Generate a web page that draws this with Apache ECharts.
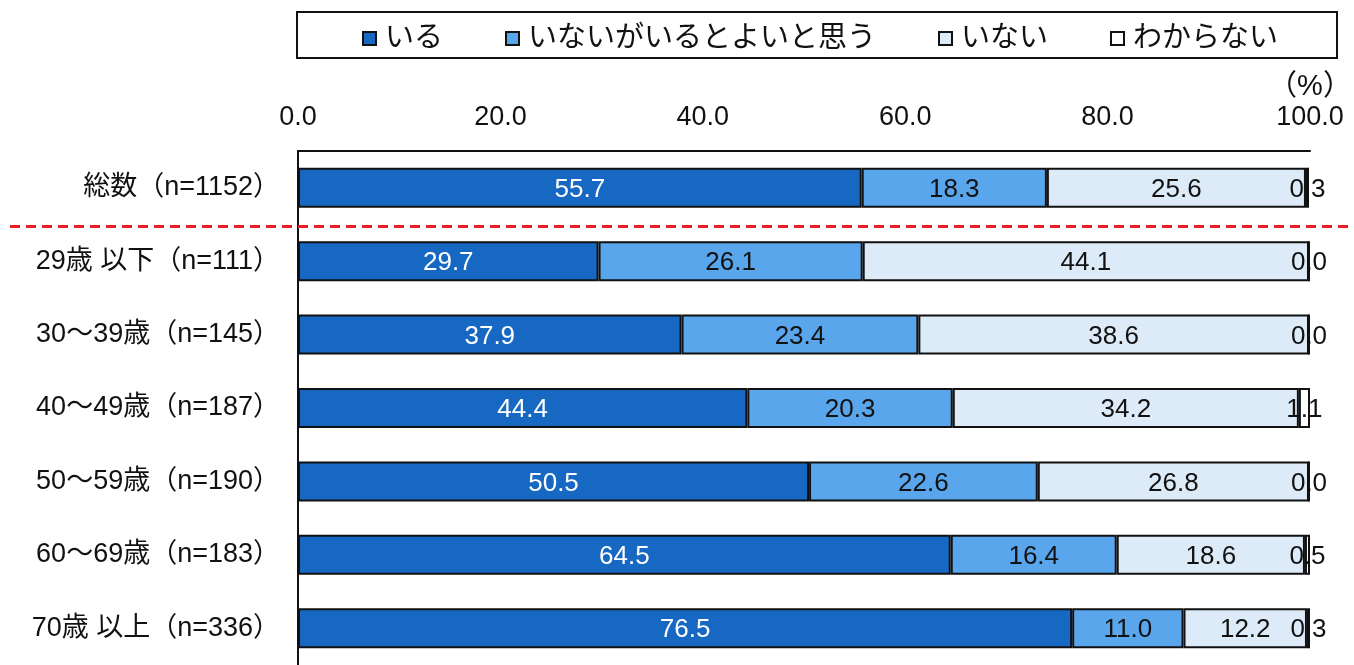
<!DOCTYPE html>
<html>
<head>
<meta charset="utf-8">
<script src="https://cdn.jsdelivr.net/npm/echarts@6/dist/echarts.min.js"></script>
<style>
  html, body { margin: 0; padding: 0; background: #fff; }
  #chart { width: 1354px; height: 665px; }
</style>
</head>
<body>
<div id="chart"></div>
<script>
// Age groups (first row is the overall total)
const categories = [
  '総数（n=1152）',
  '29歳 以下（n=111）',
  '30～39歳（n=145）',
  '40～49歳（n=187）',
  '50～59歳（n=190）',
  '60～69歳（n=183）',
  '70歳 以上（n=336）'
];
const seriesNames = ['いる', 'いないがいるとよいと思う', 'いない', 'わからない'];
const iru        = [55.7, 29.7, 37.9, 44.4, 50.5, 64.5, 76.5];
const iruToYoi   = [18.3, 26.1, 23.4, 20.3, 22.6, 16.4, 11.0];
const inai       = [25.6, 44.1, 38.6, 34.2, 26.8, 18.6, 12.2];
const wakaranai  = [0.3, 0.0, 0.0, 1.1, 0.0, 0.5, 0.3];
const xMin = 0, xMax = 100, xStep = 20;

const colors = ['#1668c2', '#5aa6ec', '#ddebf9', '#ffffff'];
const labelColors = ['#ffffff', '#111111', '#111111', '#111111'];
const FONT = "'Liberation Sans', 'Noto Sans CJK JP', sans-serif";

const values = [iru, iruToYoi, inai, wakaranai];

const chart = echarts.init(document.getElementById('chart'), null, { renderer: 'canvas' });

const option = {
  animation: false,
  backgroundColor: '#ffffff',
  legend: {
    data: seriesNames,
    left: 362,
    top: 24,
    padding: 0,
    itemWidth: 13,
    itemHeight: 13,
    itemGap: 62,
    icon: 'rect',
    textStyle: { fontSize: 29, color: '#111', fontFamily: FONT, padding: [0, 0, 0, 4] }
  },
  grid: { left: 298, top: 151, width: 1012, height: 521.5, containLabel: false },
  xAxis: {
    type: 'value',
    position: 'top',
    min: xMin,
    max: xMax,
    interval: xStep,
    splitLine: { show: false },
    axisTick: { show: false },
    axisLine: { show: true, lineStyle: { color: '#111', width: 2 } },
    axisLabel: {
      margin: 20,
      fontSize: 27,
      color: '#111',
      fontFamily: FONT,
      formatter: v => v.toFixed(1)
    }
  },
  yAxis: {
    type: 'category',
    data: categories,
    inverse: true,
    axisTick: { show: false },
    axisLine: { show: true, lineStyle: { color: '#111', width: 2 } },
    axisLabel: { margin: 18, fontSize: 27, color: '#111', fontFamily: FONT }
  },
  series: seriesNames.map((name, i) => ({
    name: name,
    type: 'bar',
    stack: 'total',
    barWidth: 40,
    data: values[i],
    itemStyle: { color: colors[i], borderColor: '#111', borderWidth: 2 },
    label: {
      show: true,
      position: 'inside',
      offset: [0, 2],
      fontSize: 26,
      fontFamily: FONT,
      color: labelColors[i],
      formatter: p => p.value.toFixed(1)
    }
  }))
};

chart.setOption(option);

// Separator between the total row and the age-group rows, plus the unit mark
const y0 = chart.convertToPixel({ yAxisIndex: 0 }, categories[0]);
const y1 = chart.convertToPixel({ yAxisIndex: 0 }, categories[1]);
const sepY = (y0 + y1) / 2 + 2;
const xEnd = chart.convertToPixel({ xAxisIndex: 0 }, xMax);

chart.setOption({
  graphic: [
    {
      type: 'rect',
      shape: { x: 297, y: 12, width: 1040, height: 46 },
      style: { fill: 'none', stroke: '#111', lineWidth: 2 },
      silent: true
    },
    {
      type: 'line',
      shape: { x1: 10, y1: sepY, x2: 1354, y2: sepY },
      style: { stroke: '#ee1c25', lineWidth: 3, lineDash: [10, 6] },
      silent: true,
      z: 10
    },
    {
      type: 'text',
      x: xEnd,
      y: 87,
      style: {
        text: '（%）',
        fontSize: 29,
        fontFamily: FONT,
        fill: '#111',
        align: 'center',
        verticalAlign: 'middle'
      },
      silent: true
    }
  ]
});
</script>
</body>
</html>
